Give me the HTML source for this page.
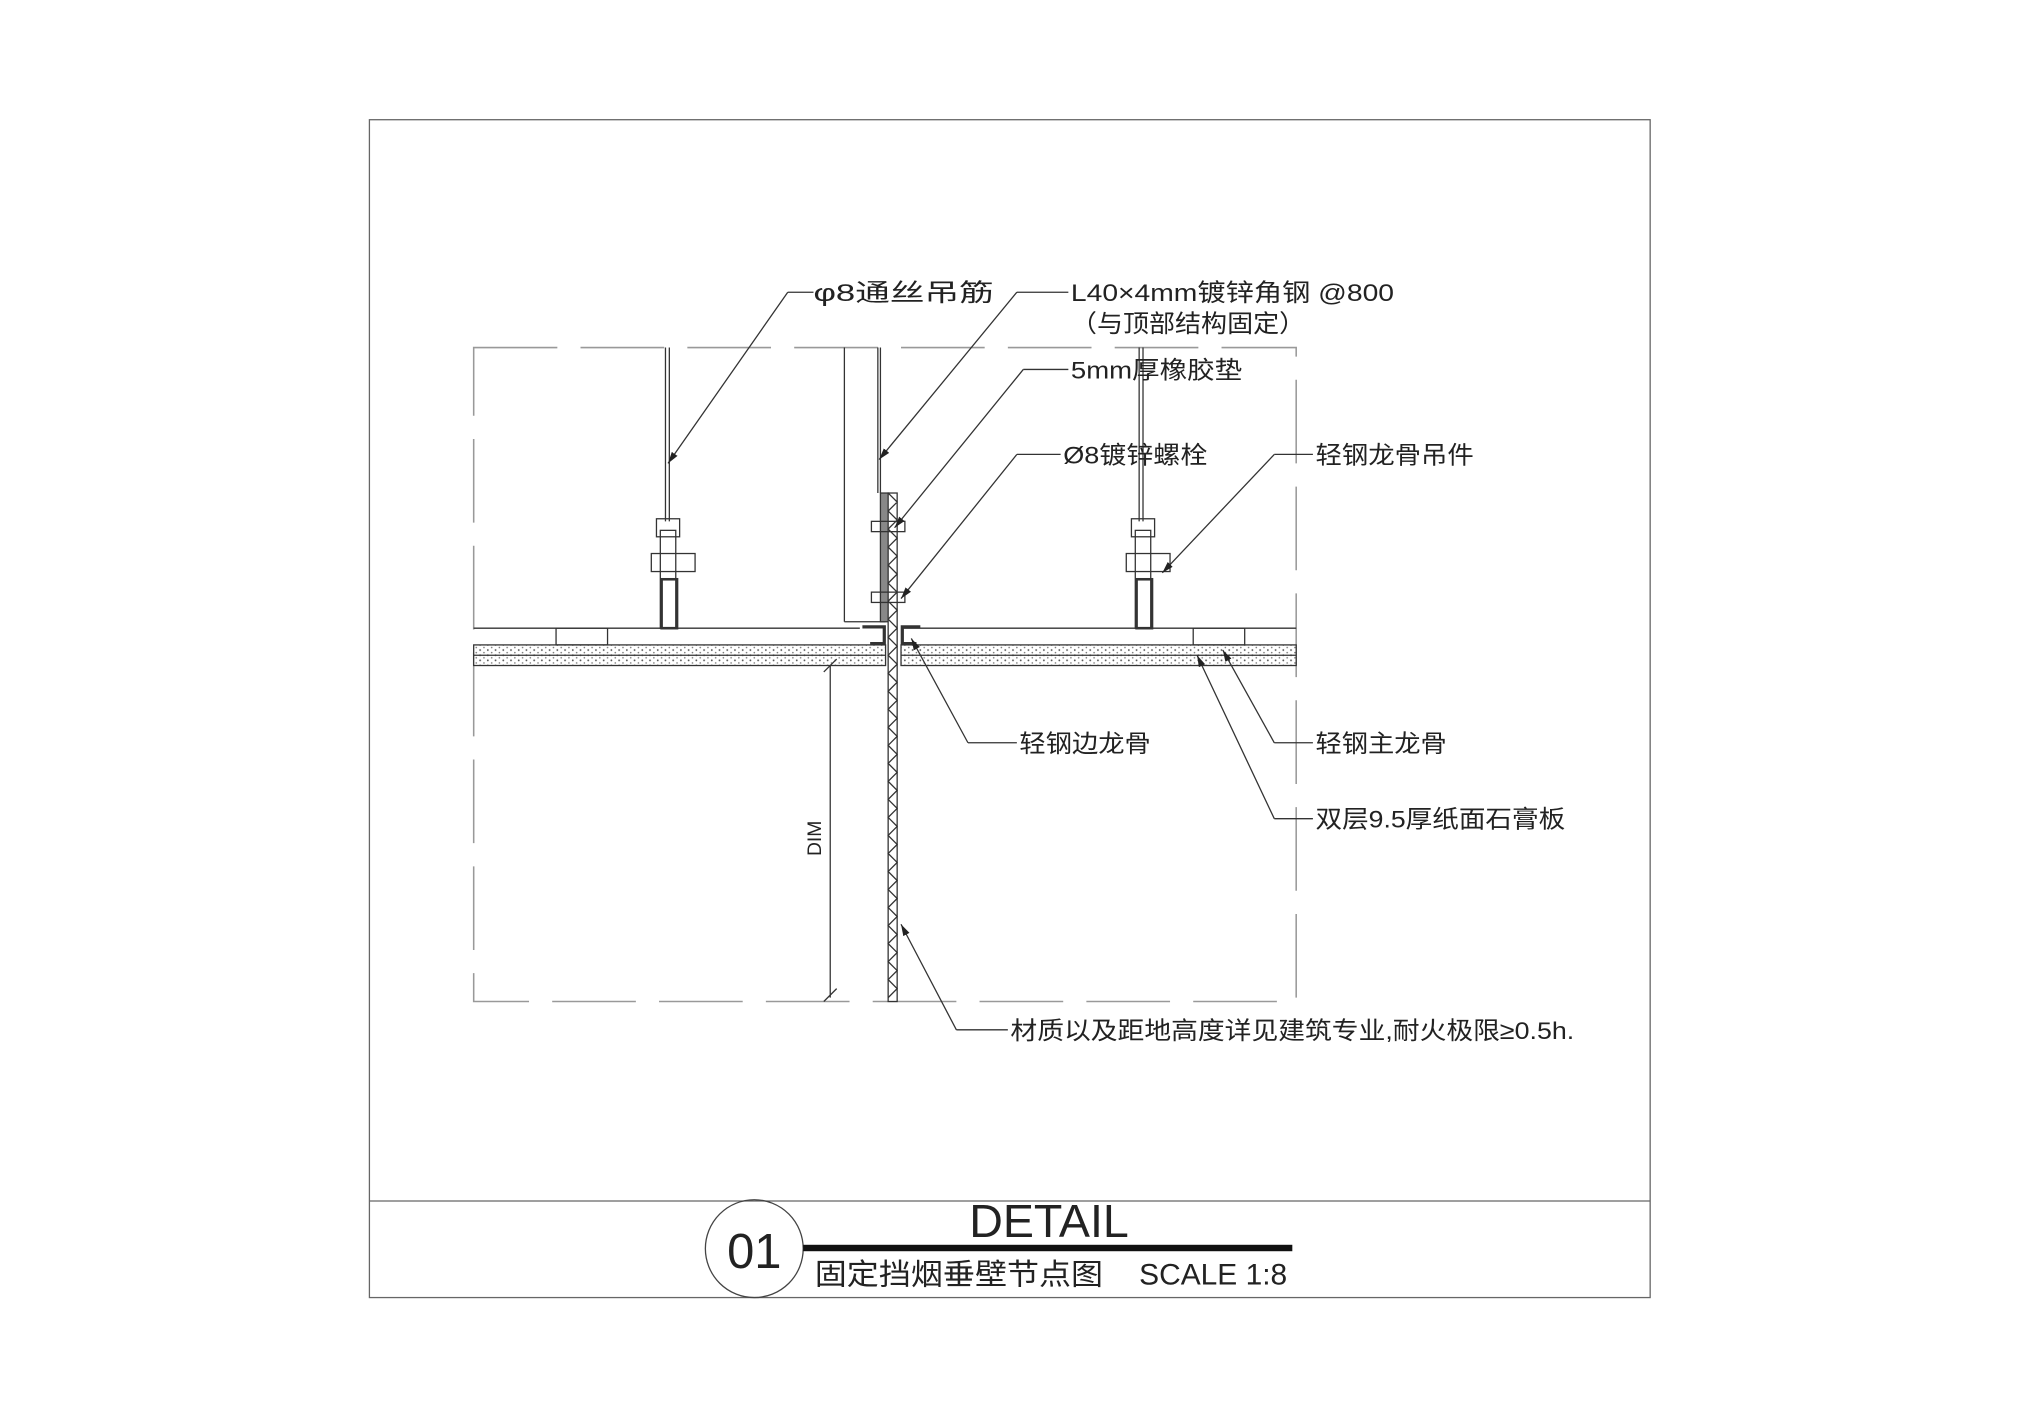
<!DOCTYPE html>
<html><head><meta charset="utf-8"><style>
html,body{margin:0;padding:0;background:#fff}
svg{display:block}
text{font-family:"Liberation Sans","Noto Sans CJK SC",sans-serif;fill:#222}
</style></head><body>
<svg width="2017" height="1425" viewBox="0 0 1567 1107" preserveAspectRatio="none" xmlns="http://www.w3.org/2000/svg">
<defs>
<pattern id="dots" width="6" height="4" patternUnits="userSpaceOnUse">
<rect width="6" height="4" fill="#fff"/>
<circle cx="1" cy="1" r="0.7" fill="#555"/><circle cx="4" cy="3" r="0.6" fill="#777"/>
</pattern>
<marker id="ar" viewBox="0 0 10 10" refX="10" refY="5" markerWidth="9" markerHeight="9" orient="auto-start-reverse" markerUnits="userSpaceOnUse"><path d="M0,2 L10,5 L0,8z" fill="#222"/></marker>
</defs>
<rect x="287" y="93" width="995" height="915" fill="none" stroke="#666" stroke-width="1"/>
<line x1="287" y1="933" x2="1282" y2="933" stroke="#666"/>
<rect x="368" y="270" width="639" height="508" fill="none" stroke="#999" stroke-width="1.2" stroke-dasharray="65,18"/>
<g stroke="#333" stroke-width="1" fill="none">
<line x1="368" y1="488" x2="668" y2="488"/>
<line x1="700" y1="488" x2="1007" y2="488"/>
<rect x="368" y="501" width="320" height="16" fill="url(#dots)"/>
<rect x="700" y="501" width="307" height="16" fill="url(#dots)"/>
<line x1="368" y1="509" x2="688" y2="509"/>
<line x1="700" y1="509" x2="1007" y2="509"/>
<rect x="432" y="488" width="40" height="13"/>
<rect x="927" y="488" width="40" height="13"/>
<line x1="517" y1="270" x2="517" y2="405"/><line x1="520" y1="270" x2="520" y2="405"/>
<line x1="885" y1="270" x2="885" y2="405"/><line x1="888" y1="270" x2="888" y2="405"/>
<line x1="656" y1="270" x2="656" y2="483"/><line x1="656" y1="483" x2="688" y2="483"/>
<line x1="682" y1="270" x2="682" y2="383"/><line x1="684" y1="270" x2="684" y2="383"/>
<rect x="510" y="403" width="18" height="14"/><rect x="506" y="430" width="34" height="14"/>
<rect x="513" y="412" width="12" height="76"/><rect x="514" y="450" width="12" height="38" stroke-width="2"/>
<rect x="879" y="403" width="18" height="14"/><rect x="875" y="430" width="34" height="14"/>
<rect x="882" y="412" width="12" height="76"/><rect x="883" y="450" width="12" height="38" stroke-width="2"/>
<rect x="684" y="383" width="6" height="100" fill="#888"/>
<rect x="690" y="383" width="7" height="395" fill="#fff"/>
<polyline points="690,383 697,390 690,397 697,404 690,411 697,418 690,425 697,432 690,439 697,446 690,453 697,460 690,467 697,474 690,481 697,488 690,495 697,502 690,509 697,516 690,523 697,530 690,537 697,544 690,551 697,558 690,565 697,572 690,579 697,586 690,593 697,600 690,607 697,614 690,621 697,628 690,635 697,642 690,649 697,656 690,663 697,670 690,677 697,684 690,691 697,698 690,705 697,712 690,719 697,726 690,733 697,740 690,747 697,754 690,761 697,768 690,775"/>
<rect x="677" y="405" width="26" height="8"/><rect x="677" y="460" width="26" height="8"/>
<polyline points="670,487 687,487 687,500 676,500" stroke-width="2.5"/>
<polyline points="715,487 701,487 701,500 712,500" stroke-width="2.5"/>
<line x1="645" y1="517" x2="645" y2="775"/>
<line x1="640" y1="522" x2="650" y2="512"/><line x1="640" y1="778" x2="650" y2="768"/>
<polyline points="632,227 612,227"/><line x1="612" y1="227" x2="519" y2="360" marker-end="url(#ar)"/>
<polyline points="830,227 790,227"/><line x1="790" y1="227" x2="683" y2="357" marker-end="url(#ar)"/>
<polyline points="830,287 795,287"/><line x1="795" y1="287" x2="695" y2="410" marker-end="url(#ar)"/>
<polyline points="824,353 790,353"/><line x1="790" y1="353" x2="700" y2="465" marker-end="url(#ar)"/>
<polyline points="1020,353 990,353"/><line x1="990" y1="353" x2="903" y2="445" marker-end="url(#ar)"/>
<polyline points="790,577 752,577"/><line x1="752" y1="577" x2="708" y2="496" marker-end="url(#ar)"/>
<polyline points="1020,577 990,577"/><line x1="990" y1="577" x2="950" y2="505" marker-end="url(#ar)"/>
<polyline points="1020,636 990,636"/><line x1="990" y1="636" x2="930" y2="509" marker-end="url(#ar)"/>
<polyline points="783,800 743,800"/><line x1="743" y1="800" x2="700" y2="718" marker-end="url(#ar)"/>
</g>
<text x="632" y="234" font-size="19" textLength="140" lengthAdjust="spacingAndGlyphs">φ8通丝吊筋</text>
<text x="832" y="234" font-size="19" textLength="251" lengthAdjust="spacingAndGlyphs">L40×4mm镀锌角钢  @800</text>
<text x="832" y="258" font-size="19" textLength="182" lengthAdjust="spacingAndGlyphs">（与顶部结构固定）</text>
<text x="832" y="294" font-size="19" textLength="133" lengthAdjust="spacingAndGlyphs">5mm厚橡胶垫</text>
<text x="826" y="360" font-size="19" textLength="112" lengthAdjust="spacingAndGlyphs">Ø8镀锌螺栓</text>
<text x="1022" y="360" font-size="19" textLength="123" lengthAdjust="spacingAndGlyphs">轻钢龙骨吊件</text>
<text x="792" y="584" font-size="19" textLength="102" lengthAdjust="spacingAndGlyphs">轻钢边龙骨</text>
<text x="1022" y="584" font-size="19" textLength="102" lengthAdjust="spacingAndGlyphs">轻钢主龙骨</text>
<text x="1022" y="643" font-size="19" textLength="194" lengthAdjust="spacingAndGlyphs">双层9.5厚纸面石膏板</text>
<text x="785" y="807" font-size="19" textLength="438" lengthAdjust="spacingAndGlyphs">材质以及距地高度详见建筑专业,耐火极限≥0.5h.</text>
<text transform="translate(638,665) rotate(-90)" font-size="15">DIM</text>
<circle cx="586" cy="970" r="38" fill="none" stroke="#444"/>
<text x="586" y="985" font-size="38" text-anchor="middle">01</text>
<rect x="624" y="967" width="380" height="5" fill="#111"/>
<text x="815" y="961" font-size="36" text-anchor="middle" textLength="124" lengthAdjust="spacingAndGlyphs">DETAIL</text>
<text x="633" y="998" font-size="23" textLength="224" lengthAdjust="spacingAndGlyphs">固定挡烟垂壁节点图</text>
<text x="885" y="998" font-size="23" textLength="115" lengthAdjust="spacingAndGlyphs">SCALE 1:8</text>
</svg>
</body></html>
